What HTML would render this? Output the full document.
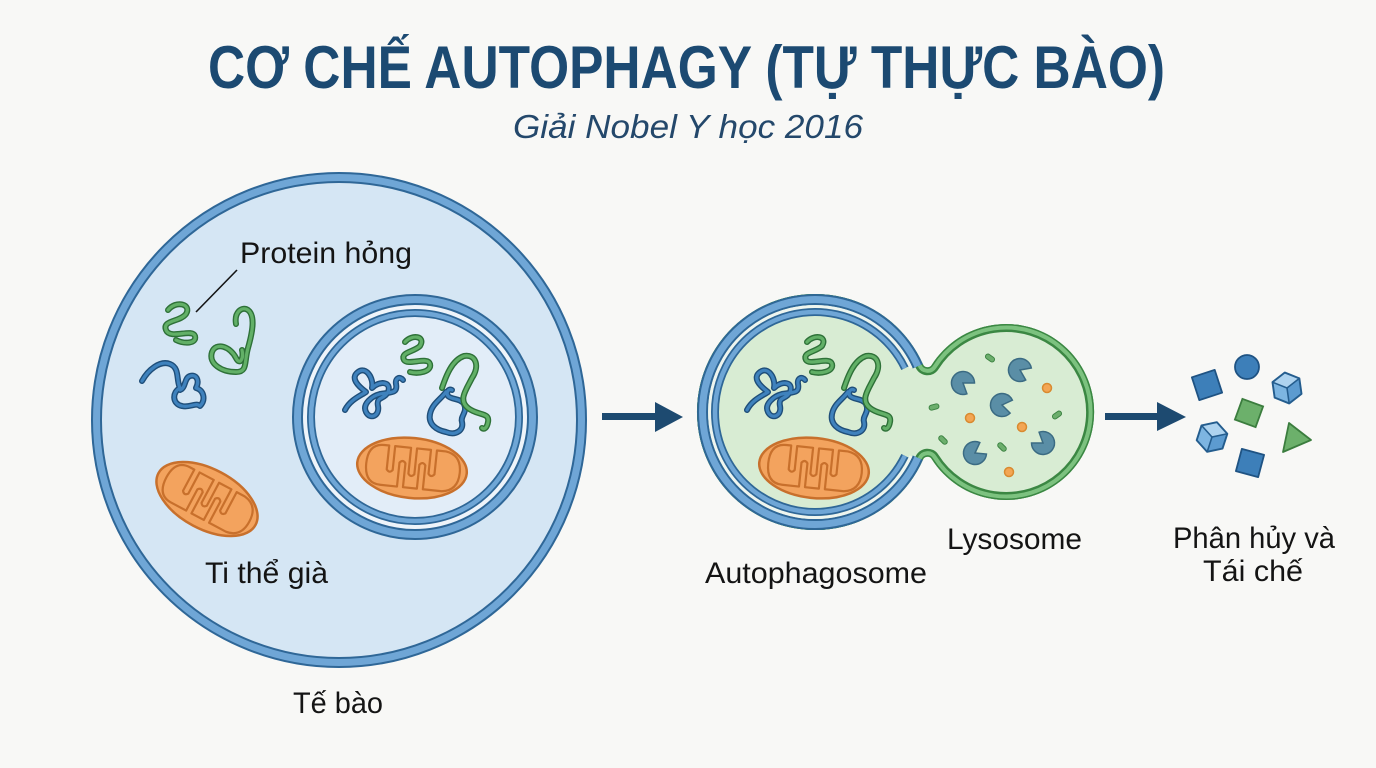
<!DOCTYPE html>
<html><head><meta charset="utf-8"><style>
html,body{margin:0;padding:0;background:#f8f8f6;}
svg{display:block;}
.t{font-family:"Liberation Sans",sans-serif;fill:#141414;font-size:30px;}
</style></head><body>
<svg width="1376" height="768" viewBox="0 0 1376 768" xmlns="http://www.w3.org/2000/svg">
<defs>
  <g id="mito">
    <ellipse cx="0" cy="0" rx="55" ry="30" fill="#f3a35e" stroke="#c8702c" stroke-width="2.5"/>
    <path d="M -46,0 Q -46,-20 -30,-20 L -25,-20 L -25,4 Q -22,8 -19,4 L -19,-20 L -3,-20 L -3,6 Q 0,10 3,6 L 3,-20 L 17,-20 L 17,4 Q 20,8 23,4 L 23,-20 L 32,-20 Q 48,-18 48,0 Q 48,18 32,20 L 13,20 L 13,-4 Q 10,-8 7,-4 L 7,20 L -7,20 L -7,-4 Q -10,-8 -13,-4 L -13,20 L -30,20 Q -46,20 -46,0 Z" fill="none" stroke="#c8702c" stroke-width="2.2" stroke-linejoin="round"/>
  </g>
  <g id="cargo">
    <g fill="none" stroke-linecap="round" stroke-linejoin="round">
      <path d="M 345,410 C 350,400 360,396 366,392 C 358,386 350,378 358,372 C 366,366 374,378 372,388 C 380,380 392,382 388,392 C 384,400 376,396 378,406 C 380,416 370,420 366,412 C 362,404 372,396 380,394 C 390,392 398,394 396,384 C 395,378 400,376 403,380" stroke="#1f4e79" stroke-width="6"/>
      <path d="M 345,410 C 350,400 360,396 366,392 C 358,386 350,378 358,372 C 366,366 374,378 372,388 C 380,380 392,382 388,392 C 384,400 376,396 378,406 C 380,416 370,420 366,412 C 362,404 372,396 380,394 C 390,392 398,394 396,384 C 395,378 400,376 403,380" stroke="#3f82bd" stroke-width="3.2"/>
      <path d="M 405,342 C 412,334 426,336 420,346 C 414,352 400,352 404,360 C 408,366 428,356 430,364 C 432,372 418,374 410,372" stroke="#2e7138" stroke-width="6"/>
      <path d="M 405,342 C 412,334 426,336 420,346 C 414,352 400,352 404,360 C 408,366 428,356 430,364 C 432,372 418,374 410,372" stroke="#62b067" stroke-width="3.2"/>
      <path d="M 446,392 C 440,400 432,404 430,414 C 428,424 436,430 446,432 C 456,436 464,430 462,422 C 460,416 468,412 464,404 C 460,398 452,400 448,396 C 446,393 448,388 452,390" stroke="#1f4e79" stroke-width="6"/>
      <path d="M 446,392 C 440,400 432,404 430,414 C 428,424 436,430 446,432 C 456,436 464,430 462,422 C 460,416 468,412 464,404 C 460,398 452,400 448,396 C 446,393 448,388 452,390" stroke="#3f82bd" stroke-width="3.2"/>
      <path d="M 442,388 C 446,376 452,360 464,356 C 476,354 480,366 472,378 C 466,390 458,400 468,408 C 478,416 490,412 488,422 C 487,428 484,430 482,428" stroke="#2e7138" stroke-width="6"/>
      <path d="M 442,388 C 446,376 452,360 464,356 C 476,354 480,366 472,378 C 466,390 458,400 468,408 C 478,416 490,412 488,422 C 487,428 484,430 482,428" stroke="#62b067" stroke-width="3.2"/>
    </g>
    <use href="#mito" transform="translate(412,468) rotate(6)"/>
  </g>
  <path id="pac" d="M0,0 L9.4,-6.6 A11.5,11.5 0 1 0 9.4,6.6 Z"/>
  <clipPath id="fclip">
    <path d="M 922.9,364.3 A 118 118 0 1 0 922.9,459.7 A 5 5 0 0 1 931.7,459 A 88 88 0 1 0 931.7,365 A 5 5 0 0 1 922.9,364.3 Z"/>
  </clipPath>
  <g id="cube">
    <polygon points="0,-13 11.3,-6.5 0,0 -11.3,-6.5" fill="#aed3ef"/>
    <polygon points="-11.3,-6.5 0,0 0,13 -11.3,6.5" fill="#7db5e1"/>
    <polygon points="0,0 11.3,-6.5 11.3,6.5 0,13" fill="#5c9bd0"/>
    <polygon points="0,-13 11.3,-6.5 11.3,6.5 0,13 -11.3,6.5 -11.3,-6.5" fill="none" stroke="#245d8e" stroke-width="1.6" stroke-linejoin="round"/>
    <polyline points="-11.3,-6.5 0,0 11.3,-6.5" fill="none" stroke="#245d8e" stroke-width="1.3"/>
    <line x1="0" y1="0" x2="0" y2="13" stroke="#245d8e" stroke-width="1.3"/>
  </g>
</defs>

<!-- Title -->
<text x="208" y="88" textLength="957" lengthAdjust="spacingAndGlyphs" transform="translate(0,88) scale(1,1.12) translate(0,-88)" style="font-family:'Liberation Sans',sans-serif;font-weight:bold;font-size:54px;fill:#1c4a72;">CƠ CHẾ AUTOPHAGY (TỰ THỰC BÀO)</text>
<text x="513" y="138" textLength="350" lengthAdjust="spacingAndGlyphs" style="font-family:'Liberation Sans',sans-serif;font-style:italic;font-size:33px;fill:#24486b;">Giải Nobel Y học 2016</text>

<!-- Cell -->
<circle cx="339" cy="420" r="248" fill="#d5e6f4"/>
<circle cx="339" cy="420" r="242.5" fill="none" stroke="#2f6797" stroke-width="11"/>
<circle cx="339" cy="420" r="242.5" fill="none" stroke="#6fa6d6" stroke-width="7"/>

<!-- free proteins -->
<g fill="none" stroke-linecap="round" stroke-linejoin="round">
  <path d="M 168,310 C 176,300 192,304 186,314 C 180,322 162,320 166,330 C 170,340 192,328 195,336 C 197,344 184,344 176,340" stroke="#2e7138" stroke-width="6"/>
  <path d="M 168,310 C 176,300 192,304 186,314 C 180,322 162,320 166,330 C 170,340 192,328 195,336 C 197,344 184,344 176,340" stroke="#62b067" stroke-width="3.2"/>
  <path d="M 236,324 C 234,312 242,306 248,310 C 256,316 252,334 248,348 C 244,362 248,372 236,372 C 222,372 208,364 212,352 C 216,342 230,346 236,358 C 240,366 244,358 242,350" stroke="#2e7138" stroke-width="6"/>
  <path d="M 236,324 C 234,312 242,306 248,310 C 256,316 252,334 248,348 C 244,362 248,372 236,372 C 222,372 208,364 212,352 C 216,342 230,346 236,358 C 240,366 244,358 242,350" stroke="#62b067" stroke-width="3.2"/>
  <path d="M 142,381 C 148,370 160,360 170,364 C 180,368 176,380 180,388 C 172,392 172,404 182,406 C 190,408 196,402 200,406 C 206,400 204,390 196,388 C 200,380 196,374 190,376 C 184,378 186,388 180,390" stroke="#1f4e79" stroke-width="6"/>
  <path d="M 142,381 C 148,370 160,360 170,364 C 180,368 176,380 180,388 C 172,392 172,404 182,406 C 190,408 196,402 200,406 C 206,400 204,390 196,388 C 200,380 196,374 190,376 C 184,378 186,388 180,390" stroke="#3f82bd" stroke-width="3.2"/>
</g>
<use href="#mito" transform="translate(207,499) rotate(28)"/>

<!-- inner vesicle in cell -->
<circle cx="415" cy="417" r="123" fill="#eef4fa"/>
<circle cx="415" cy="417" r="100" fill="#e2edf8"/>
<circle cx="415" cy="417" r="117.5" fill="none" stroke="#2f6797" stroke-width="11"/>
<circle cx="415" cy="417" r="117.5" fill="none" stroke="#6fa6d6" stroke-width="7"/>
<circle cx="415" cy="417" r="104" fill="none" stroke="#2f6797" stroke-width="8"/>
<circle cx="415" cy="417" r="104" fill="none" stroke="#6fa6d6" stroke-width="4.5"/>
<use href="#cargo"/>

<!-- labels cell -->
<line x1="237" y1="270" x2="196" y2="312" stroke="#141414" stroke-width="1.6"/>
<text class="t" x="240" y="263" textLength="172" lengthAdjust="spacingAndGlyphs">Protein hỏng</text>
<text class="t" x="205" y="583" textLength="123" lengthAdjust="spacingAndGlyphs">Ti thể già</text>
<text class="t" x="293" y="713" textLength="90" lengthAdjust="spacingAndGlyphs">Tế bào</text>

<!-- Arrow 1 -->
<rect x="602" y="413" width="56" height="7" fill="#1d4a70"/>
<polygon points="655,402 683,417 655,432" fill="#1d4a70"/>

<!-- Fused autophagosome + lysosome -->
<path d="M 922.9,364.3 A 118 118 0 1 0 922.9,459.7 A 5 5 0 0 1 931.7,459 A 88 88 0 1 0 931.7,365 A 5 5 0 0 1 922.9,364.3 Z" fill="#d8ecd3"/>
<g clip-path="url(#fclip)" fill="none">
  <path d="M 922.9,364.3 A 118 118 0 1 0 922.9,459.7 A 5 5 0 0 1 931.7,459 A 88 88 0 1 0 931.7,365 A 5 5 0 0 1 922.9,364.3 Z" stroke="#3b8743" stroke-width="16"/>
  <path d="M 922.9,364.3 A 118 118 0 1 0 922.9,459.7 A 5 5 0 0 1 931.7,459 A 88 88 0 1 0 931.7,365 A 5 5 0 0 1 922.9,364.3 Z" stroke="#7cc27f" stroke-width="11"/>
  <path d="M 922.9,364.3 A 118 118 0 1 0 922.9,459.7 A 5 5 0 0 1 931.7,459 A 88 88 0 1 0 931.7,365 A 5 5 0 0 1 922.9,364.3 Z" stroke="#3b8743" stroke-width="3"/>
</g>
<g fill="none">
  <path d="M 917.8,366.2 A 112.5 112.5 0 1 0 917.8,457.8" stroke="#2f6797" stroke-width="11"/>
  <path d="M 917.8,366.2 A 112.5 112.5 0 1 0 917.8,457.8" stroke="#6fa6d6" stroke-width="7"/>
  <path d="M 911,368 A 105.5 105.5 0 1 0 911,456" stroke="#eef5ef" stroke-width="3"/>
  <path d="M 904.9,368.2 A 100 100 0 1 0 904.9,455.8" stroke="#2f6797" stroke-width="8"/>
  <path d="M 904.9,368.2 A 100 100 0 1 0 904.9,455.8" stroke="#6fa6d6" stroke-width="4.5"/>
</g>
<use href="#cargo" transform="translate(402,0)"/>

<!-- lysosome contents -->
<g fill="#5a8ea6" stroke="#3b6b83" stroke-width="1.5">
  <use href="#pac" transform="translate(963,383) rotate(35)"/>
  <use href="#pac" transform="translate(1020,370) rotate(25)"/>
  <use href="#pac" transform="translate(1002,405) rotate(10)"/>
  <use href="#pac" transform="translate(975,453) rotate(-30)"/>
  <use href="#pac" transform="translate(1043,443) rotate(215)"/>
</g>
<g fill="#f3a654" stroke="#d98a30" stroke-width="1.5">
  <circle cx="1047" cy="388" r="4.5"/>
  <circle cx="970" cy="418" r="4.5"/>
  <circle cx="1022" cy="427" r="4.5"/>
  <circle cx="1009" cy="472" r="4.5"/>
</g>
<g fill="#6cae6c" stroke="#3d8343" stroke-width="1">
  <rect x="-5" y="-2.5" width="10" height="5" rx="2.5" transform="translate(990,358) rotate(35)"/>
  <rect x="-5" y="-2.5" width="10" height="5" rx="2.5" transform="translate(934,407) rotate(-15)"/>
  <rect x="-5" y="-2.5" width="10" height="5" rx="2.5" transform="translate(943,440) rotate(45)"/>
  <rect x="-5" y="-2.5" width="10" height="5" rx="2.5" transform="translate(1002,447) rotate(45)"/>
  <rect x="-5" y="-2.5" width="10" height="5" rx="2.5" transform="translate(1057,415) rotate(-35)"/>
</g>

<text class="t" x="705" y="583" textLength="222" lengthAdjust="spacingAndGlyphs">Autophagosome</text>
<text class="t" x="947" y="549" textLength="135" lengthAdjust="spacingAndGlyphs">Lysosome</text>

<!-- Arrow 2 -->
<rect x="1105" y="413" width="55" height="7" fill="#1d4a70"/>
<polygon points="1157,402 1186,417 1157,431" fill="#1d4a70"/>

<!-- recycled pieces -->
<g stroke="#1f5383" stroke-width="1.8" stroke-linejoin="round">
  <rect x="-12" y="-12" width="24" height="24" fill="#3d7fb9" transform="translate(1207,385) rotate(-18)"/>
  <circle cx="1247" cy="367" r="12" fill="#3d7fb9"/>
  <rect x="-11.5" y="-11.5" width="23" height="23" fill="#3d7fb9" transform="translate(1250,463) rotate(15)"/>
</g>
<rect x="-11" y="-11" width="22" height="22" fill="#6cb06b" stroke="#3b7d3e" stroke-width="1.8" transform="translate(1249,413) rotate(20)"/>
<polygon points="1283,452 1311,440 1289,423" fill="#6cb06b" stroke="#3b7d3e" stroke-width="1.8" stroke-linejoin="round"/>
<use href="#cube" transform="translate(1287,388) rotate(-8) scale(1.2)"/>
<use href="#cube" transform="translate(1212,437) rotate(18) scale(1.2)"/>

<text class="t" x="1173" y="548" textLength="162" lengthAdjust="spacingAndGlyphs">Phân hủy và</text>
<text class="t" x="1203" y="581" textLength="100" lengthAdjust="spacingAndGlyphs">Tái chế</text>
</svg>
</body></html>
